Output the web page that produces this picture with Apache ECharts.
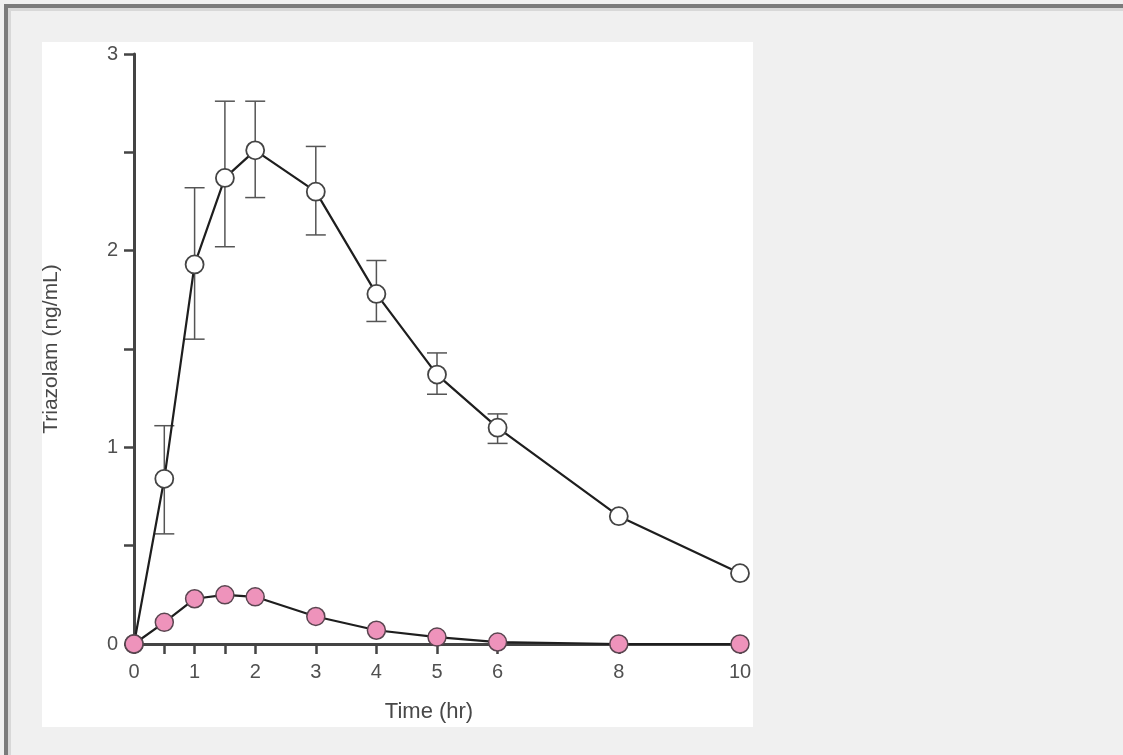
<!DOCTYPE html>
<html>
<head>
<meta charset="utf-8">
<script src="https://cdn.jsdelivr.net/npm/echarts@6/dist/echarts.min.js"></script>
<style>
html,body{margin:0;padding:0;background:#f0f0f0;}
#chart{width:1123px;height:755px;}
</style>
</head>
<body>
<div id="chart"></div>
<script>
const times = [0, 0.5, 1, 1.5, 2, 3, 4, 5, 6, 8, 10];
const controlMean = [0, 0.84, 1.93, 2.37, 2.51, 2.30, 1.78, 1.37, 1.10, 0.65, 0.36];
const controlLow = [null, 0.56, 1.55, 2.02, 2.27, 2.08, 1.64, 1.27, 1.02, null, null];
const controlHigh = [null, 1.11, 2.32, 2.76, 2.76, 2.53, 1.95, 1.48, 1.17, null, null];
const treatedMean = [0, 0.11, 0.23, 0.25, 0.24, 0.14, 0.07, 0.035, 0.01, 0, 0];
const xLabelValues = [0, 1, 2, 3, 4, 5, 6, 8, 10];
const xTickValues = [0, 0.5, 1, 1.5, 2, 3, 4, 5, 6, 8, 10];
const yLabelValues = [0, 1, 2, 3];
const yTickValues = [0, 0.5, 1, 1.5, 2, 2.5, 3];

const chart = echarts.init(document.getElementById('chart'), null, {renderer: 'canvas'});
const font = 'Liberation Sans, Arial, sans-serif';

const errData = [];
times.forEach((t, i) => {
  if (controlLow[i] != null) errData.push([t, controlLow[i], controlHigh[i]]);
});

const option = {
  backgroundColor: '#f0f0f0',
  animation: false,
  graphic: [
    {type: 'rect', z: -10, shape: {x: 4, y: 4, width: 1119, height: 4}, style: {fill: '#7b7b7b'}},
    {type: 'rect', z: -10, shape: {x: 8, y: 8, width: 1115, height: 3}, style: {fill: '#d8d8d8'}},
    {type: 'rect', z: -10, shape: {x: 4, y: 4, width: 4, height: 751}, style: {fill: '#7b7b7b'}},
    {type: 'rect', z: -10, shape: {x: 8, y: 8, width: 3, height: 747}, style: {fill: '#d8d8d8'}},
    {type: 'rect', z: -10, shape: {x: 42, y: 42, width: 711, height: 685}, style: {fill: '#ffffff'}}
  ],
  grid: {left: 134, right: 383, top: 54, bottom: 111, containLabel: false},
  xAxis: {
    type: 'value', min: 0, max: 10, interval: 1,
    name: 'Time (hr)', nameLocation: 'middle', nameGap: 57,
    nameTextStyle: {fontFamily: font, fontSize: 22, color: '#484848', padding: [0, 16, 0, 0]},
    axisLine: {show: true, lineStyle: {color: '#444', width: 3}},
    axisTick: {show: true, length: 10, customValues: xTickValues, lineStyle: {color: '#444', width: 2.5}},
    axisLabel: {customValues: xLabelValues, margin: 18, fontFamily: font, fontSize: 20, color: '#505050'},
    splitLine: {show: false}
  },
  yAxis: {
    type: 'value', min: 0, max: 3, interval: 0.5,
    name: 'Triazolam (ng/mL)', nameLocation: 'middle', nameGap: 72, nameRotate: 90,
    nameTextStyle: {fontFamily: font, fontSize: 21, color: '#484848'},
    axisLine: {show: true, lineStyle: {color: '#444', width: 3}},
    axisTick: {show: true, length: 10, customValues: yTickValues, lineStyle: {color: '#444', width: 2.5}},
    axisLabel: {customValues: yLabelValues, margin: 16, fontFamily: font, fontSize: 20, color: '#505050'},
    splitLine: {show: false}
  },
  series: [
    {
      type: 'custom',
      z: 1,
      data: errData,
      renderItem: function (params, api) {
        const x = api.value(0);
        const lo = api.coord([x, api.value(1)]);
        const hi = api.coord([x, api.value(2)]);
        const hw = 10;
        const st = {stroke: '#555', lineWidth: 1.5};
        return {
          type: 'group',
          children: [
            {type: 'line', shape: {x1: lo[0], y1: lo[1], x2: hi[0], y2: hi[1]}, style: st},
            {type: 'line', shape: {x1: lo[0] - hw, y1: lo[1], x2: lo[0] + hw, y2: lo[1]}, style: st},
            {type: 'line', shape: {x1: hi[0] - hw, y1: hi[1], x2: hi[0] + hw, y2: hi[1]}, style: st}
          ]
        };
      }
    },
    {
      type: 'line',
      z: 3,
      data: times.map((t, i) => [t, controlMean[i]]),
      symbol: 'circle', symbolSize: 18,
      lineStyle: {color: '#1e1e1e', width: 2.2},
      itemStyle: {color: '#ffffff', borderColor: '#444', borderWidth: 1.8}
    },
    {
      type: 'line',
      z: 4,
      data: times.map((t, i) => [t, treatedMean[i]]),
      symbol: 'circle', symbolSize: 18,
      lineStyle: {color: '#1e1e1e', width: 2.2},
      itemStyle: {color: '#ee93bb', borderColor: '#5a4550', borderWidth: 1.5}
    }
  ]
};
chart.setOption(option);
</script>
</body>
</html>
